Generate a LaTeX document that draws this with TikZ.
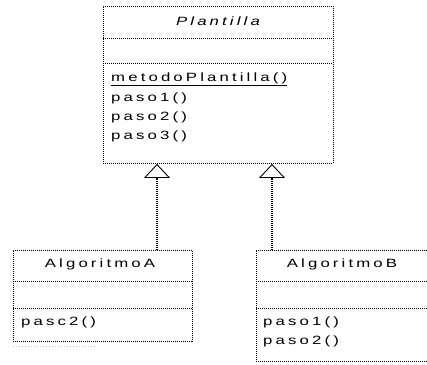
\documentclass[tikz,border=0pt]{standalone}
\usepackage{fontspec}
\setmainfont{Liberation Sans}[FakeStretch=1.4,LetterSpace=26]
\usetikzlibrary{arrows.meta,calc}
\begin{document}
\begin{tikzpicture}[x=1pt,y=-1pt,
  box/.style={draw, line width=0.9pt, dash pattern=on 1pt off 1pt, inner sep=0pt, anchor=north west},
  sep/.style={line width=0.9pt, dash pattern=on 1pt off 1pt},
  txt/.style={font=\fontsize{12}{14}\selectfont, inner sep=0pt, anchor=west},
  ttl/.style={font=\fontsize{12}{14}\selectfont, inner sep=0pt},
  inh/.style={line width=1.6pt, dash pattern=on 1pt off 1pt,
    -{Triangle[open, length=14pt, width=26pt, line width=0.9pt]}}]
\useasboundingbox (0,0) rectangle (427,364);
\begin{scope}
\clip (0,0) rectangle (427,364);
% Plantilla
\node[box, minimum width=230pt, minimum height=157pt] (plant) at (103,6) {};
\draw[sep] (103,38) -- (333,38);
\draw[sep] (103,63) -- (333,63);
\node[ttl] (plantname) at (218,21) {\itshape Plantilla};
\node[txt] (m0) at (111,79) {\underline{metodoPlantilla()}};
\node[txt] (m1) at (111,98) {paso1()};
\node[txt] (m2) at (111,117) {paso2()};
\node[txt] (m3) at (111,136) {paso3()};
% AlgoritmoA
\node[box, minimum width=179pt, minimum height=91pt] (algA) at (13,250) {};
\draw[sep] (13,281) -- (192,281);
\draw[sep] (13,308) -- (192,308);
\node[ttl] (algAname) at (100,264) {AlgoritmoA};
\node[txt] (a1) at (21,322) {pasc2()};
\draw[line width=0.6pt, gray!50, dash pattern=on 1pt off 2pt] (13,346) -- (97,346);
% AlgoritmoB
\node[box, minimum width=190pt, minimum height=111pt] (algB) at (256,250) {};
\draw[sep] (256,281) -- (446,281);
\draw[sep] (256,308) -- (446,308);
\node[ttl] (algBname) at (342,264) {AlgoritmoB};
\node[txt] (b1) at (263,322) {paso1()};
\node[txt] (b2) at (263,341) {paso2()};
% inheritance
\draw[inh] ($(algA.north west)+(144,0)$) -- ($(plant.south west)+(54,0)$);
\draw[inh] ($(algB.north west)+(16,0)$) -- ($(plant.south west)+(169,0)$);
\end{scope}
\end{tikzpicture}
\end{document}
